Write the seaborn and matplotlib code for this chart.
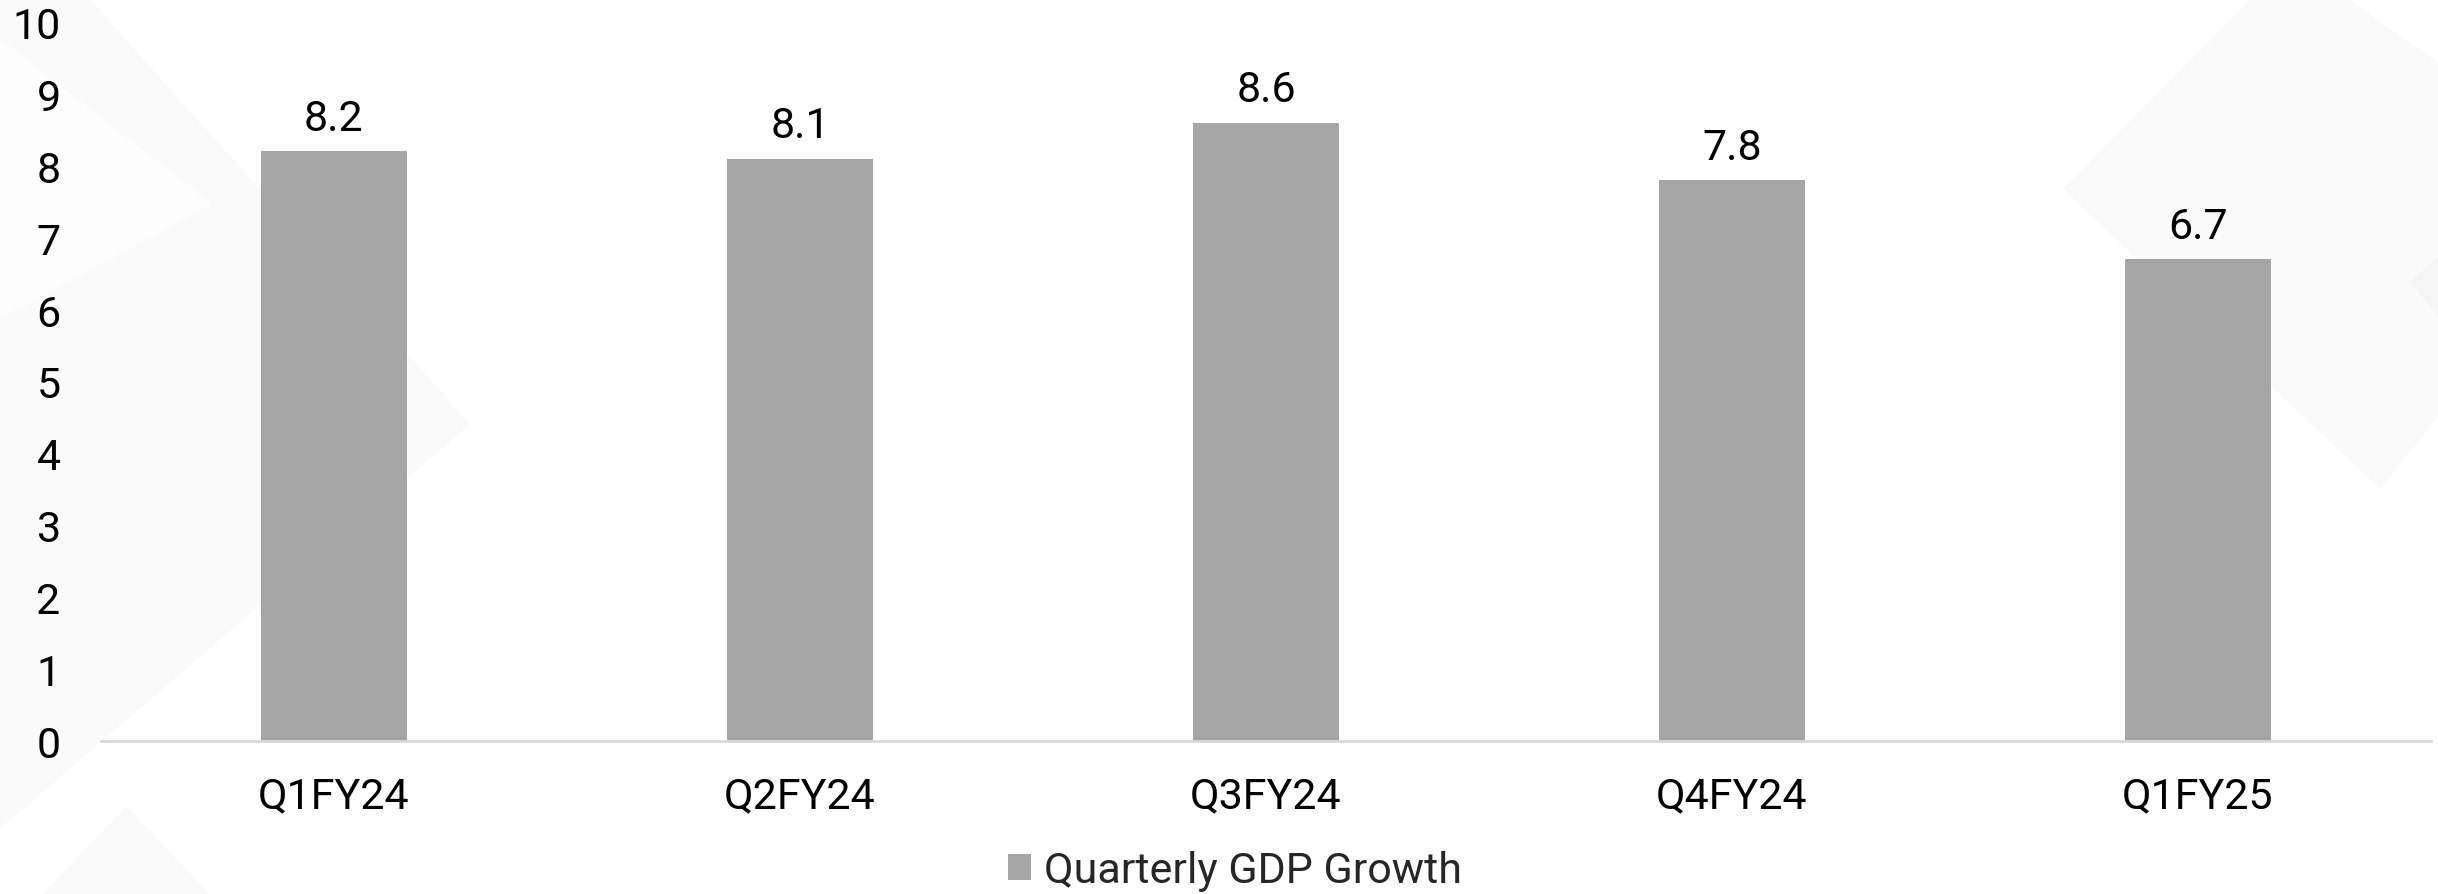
import matplotlib
matplotlib.use("Agg")
import matplotlib.pyplot as plt
from matplotlib.patches import Polygon
import pandas as pd
import seaborn as sns

# Quarterly real GDP growth (%)
quarters = ["Q1FY24", "Q2FY24", "Q3FY24", "Q4FY24", "Q1FY25"]
growth = [8.2, 8.1, 8.6, 7.8, 6.7]
series_name = "Quarterly GDP Growth"
y_ticks = [0, 1, 2, 3, 4, 5, 6, 7, 8, 9, 10]

df = pd.DataFrame({"Quarter": quarters, "Growth": growth, "Series": series_name})

sns.set_theme(style="white")
plt.rcParams["font.family"] = ["Roboto", "DejaVu Sans"]

FS = 31
W, H = 2438, 895
fig = plt.figure(figsize=(W / 100, H / 100), dpi=100)
fig.patch.set_facecolor("white")

# faint chevron watermark on a background layer (pixel coords, y from top)
bg = fig.add_axes([0, 0, 1, 1], zorder=-5)
bg.set_xlim(0, W)
bg.set_ylim(H, 0)
bg.axis("off")

def px_poly(points, color):
    bg.add_patch(Polygon(points, closed=True, facecolor=color, edgecolor="none"))

px_poly([(0, -100), (470, 425), (0, 830)], "#fafafa")
px_poly([(0, 40), (213, 205), (0, 320)], "#fdfdfd")
px_poly([(127, 807), (270, 960), (127, 1110), (-20, 960)], "#fafafa")
px_poly([(2063, 190), (2290, -40), (2620, 190), (2380, 490)], "#fafafa")
px_poly([(2410, 283), (2470, 230), (2500, 330), (2450, 330)], "#f5f5f5")

ax = fig.add_axes([101 / W, 1 - 742 / H, (2431 - 101) / W, (742 - 23) / H], zorder=1)
ax.set_facecolor("none")

sns.barplot(data=df, x="Quarter", y="Growth", hue="Series", palette=["#a5a5a5"],
            width=0.313, saturation=1, ax=ax, legend=False, edgecolor="none")

for cont in ax.containers:
    ax.bar_label(cont, fmt="%.1f", padding=9, fontsize=FS, color="#000000")

ax.set_ylim(0, 10)
ax.set_xlim(-0.5, len(quarters) - 0.5)
ax.set_yticks(y_ticks)
ax.set_yticklabels([str(t) for t in y_ticks])
ax.set_xlabel("")
ax.set_ylabel("")
ax.tick_params(axis="y", length=0, pad=29, labelsize=FS, labelcolor="#000000")
ax.tick_params(axis="x", length=0, pad=25, labelsize=FS, labelcolor="#000000")

for side in ["top", "right", "left"]:
    ax.spines[side].set_visible(False)
ax.spines["bottom"].set_color("#d9d9d9")
ax.spines["bottom"].set_linewidth(2)
ax.grid(False)

handle = plt.Rectangle((0, 0), 1, 1, facecolor="#a5a5a5", edgecolor="none")
fig.legend([handle], [series_name], loc="center", bbox_to_anchor=(0.5065, 1 - 872 / H),
           frameon=False, fontsize=FS, handlelength=0.55, handleheight=0.55,
           handletextpad=0.3, borderpad=0)

fig.savefig("out.png", dpi=100, facecolor="white")
